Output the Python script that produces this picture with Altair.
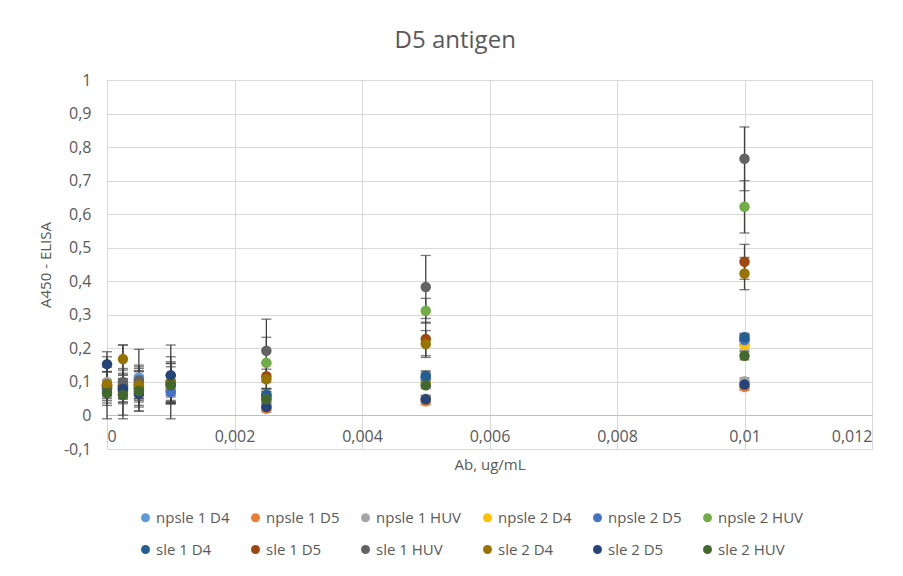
import altair as alt
import pandas as pd

x_vals = [0, 0.00025, 0.0005, 0.001, 0.0025, 0.005, 0.01]

series_names = [
    "npsle 1 D4", "npsle 1 D5", "npsle 1 HUV", "npsle 2 D4", "npsle 2 D5", "npsle 2 HUV",
    "sle 1 D4", "sle 1 D5", "sle 1 HUV", "sle 2 D4", "sle 2 D5", "sle 2 HUV",
]
series_colors = [
    "#5B9BD5", "#ED7D31", "#A5A5A5", "#FFC000", "#4472C4", "#70AD47",
    "#255E91", "#9E480E", "#636363", "#997300", "#264478", "#43682B",
]

means = {
    "npsle 1 D4":  [0.080, 0.085, 0.113, 0.075, 0.060, 0.115, 0.225],
    "npsle 1 D5":  [0.075, 0.070, 0.085, 0.080, 0.020, 0.042, 0.085],
    "npsle 1 HUV": [0.100, 0.090, 0.100, 0.080, 0.030, 0.050, 0.102],
    "npsle 2 D4":  [0.085, 0.080, 0.090, 0.085, 0.050, 0.100, 0.210],
    "npsle 2 D5":  [0.080, 0.075, 0.080, 0.070, 0.055, 0.110, 0.225],
    "npsle 2 HUV": [0.090, 0.085, 0.090, 0.095, 0.157, 0.312, 0.622],
    "sle 1 D4":    [0.085, 0.080, 0.080, 0.090, 0.062, 0.118, 0.233],
    "sle 1 D5":    [0.090, 0.090, 0.095, 0.095, 0.117, 0.228, 0.458],
    "sle 1 HUV":   [0.090, 0.100, 0.105, 0.100, 0.193, 0.383, 0.765],
    "sle 2 D4":    [0.094, 0.168, 0.090, 0.100, 0.108, 0.213, 0.423],
    "sle 2 D5":    [0.153, 0.079, 0.065, 0.120, 0.025, 0.048, 0.092],
    "sle 2 HUV":   [0.067, 0.061, 0.073, 0.091, 0.048, 0.090, 0.178],
}
errors = {
    "npsle 1 D4":  [0.020, 0.020, 0.020, 0.030, 0.010, 0.015, 0.015],
    "npsle 1 D5":  [0.020, 0.030, 0.030, 0.040, 0.010, 0.010, 0.010],
    "npsle 1 HUV": [0.030, 0.030, 0.030, 0.040, 0.010, 0.010, 0.010],
    "npsle 2 D4":  [0.020, 0.020, 0.030, 0.030, 0.010, 0.015, 0.015],
    "npsle 2 D5":  [0.020, 0.020, 0.030, 0.035, 0.010, 0.015, 0.015],
    "npsle 2 HUV": [0.060, 0.050, 0.060, 0.060, 0.076, 0.037, 0.078],
    "sle 1 D4":    [0.020, 0.030, 0.030, 0.030, 0.010, 0.015, 0.012],
    "sle 1 D5":    [0.040, 0.050, 0.050, 0.060, 0.037, 0.050, 0.052],
    "sle 1 HUV":   [0.100, 0.110, 0.092, 0.110, 0.094, 0.094, 0.095],
    "sle 2 D4":    [0.050, 0.042, 0.050, 0.060, 0.030, 0.040, 0.048],
    "sle 2 D5":    [0.022, 0.030, 0.040, 0.055, 0.010, 0.010, 0.010],
    "sle 2 HUV":   [0.030, 0.060, 0.060, 0.054, 0.010, 0.010, 0.012],
}

x_ticks = [0, 0.002, 0.004, 0.006, 0.008, 0.01, 0.012]
y_ticks = [-0.1, 0, 0.1, 0.2, 0.3, 0.4, 0.5, 0.6, 0.7, 0.8, 0.9, 1]

rows = []
for s in series_names:
    for xv, m, e in zip(x_vals, means[s], errors[s]):
        rows.append({"series": s, "x": xv, "y": m, "lo": m - e, "hi": m + e})
df = pd.DataFrame(rows)

TXT = "#595959"
FONT = "Open Sans"

x_enc = alt.X(
    "x:Q",
    scale=alt.Scale(domain=[0, 0.012], nice=False),
    axis=alt.Axis(
        values=x_ticks,
        tickCount=20,
        labelExpr="replace(format(datum.value, '~g'), '.', ',')",
        title="Ab, ug/mL",
        offset=-34,
        ticks=False,
        tickSize=0,
        labelPadding=13,
        titlePadding=13,
        domainColor="#bfbfbf",
        gridColor="#d9d9d9",
    ),
)
y_scale = alt.Scale(domain=[-0.1, 1], nice=False)
y_axis = alt.Axis(
    values=y_ticks,
    tickCount=30,
    labelExpr="replace(replace(format(datum.value, '~g'), '.', ','), '\u2212', '-')",
    title="A450 - ELISA",
    domain=False,
    ticks=False,
    tickSize=0,
    labelPadding=16,
    titlePadding=10,
    gridColor="#d9d9d9",
)

base = alt.Chart(df)

bars = base.mark_rule(color="#404040", strokeWidth=1.3).encode(
    x=x_enc,
    y=alt.Y("lo:Q", scale=y_scale, axis=y_axis),
    y2="hi:Q",
)
cap_lo = base.mark_tick(color="#404040", orient="horizontal", size=10, thickness=1.3).encode(
    x="x:Q", y=alt.Y("lo:Q", scale=y_scale)
)
cap_hi = base.mark_tick(color="#404040", orient="horizontal", size=10, thickness=1.3).encode(
    x="x:Q", y=alt.Y("hi:Q", scale=y_scale)
)
points = base.mark_circle(size=110, opacity=1).encode(
    x="x:Q",
    y=alt.Y("y:Q", scale=y_scale),
    color=alt.Color(
        "series:N",
        scale=alt.Scale(domain=series_names, range=series_colors),
        sort=series_names,
        legend=alt.Legend(
            title=None,
            orient="none",
            legendX=31,
            legendY=430,
            direction="horizontal",
            columns=6,
            symbolType="circle",
            symbolSize=80,
            labelFontSize=15,
            labelColor=TXT,
            labelFont=FONT,
            columnPadding=18,
            rowPadding=16,
            labelOffset=3,
        ),
    ),
)

chart = (
    alt.layer(bars, cap_lo, cap_hi, points)
    .properties(
        width=765,
        height=369,
        padding={"left": 30, "top": 21, "right": 10, "bottom": 5},
        title=alt.TitleParams(
            "D5 antigen", fontSize=24, font=FONT, color=TXT, fontWeight="normal",
            anchor="middle", frame="bounds", offset=19,
        ),
    )
    .configure_view(stroke=None)
    .configure_axis(
        labelFont=FONT, titleFont=FONT, labelColor=TXT, titleColor=TXT,
        labelFontSize=16, titleFontSize=15, titleFontWeight="normal",
    )
)

chart.save("out.html", embed_options={"renderer": "svg", "actions": False})
